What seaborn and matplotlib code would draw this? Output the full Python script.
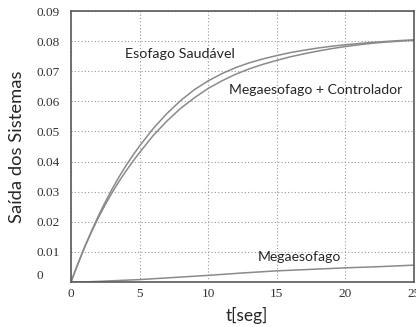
import numpy as np
import pandas as pd
import matplotlib
matplotlib.use("Agg")
import matplotlib.pyplot as plt
import seaborn as sns

# data
t_saudavel = [0, 0.5, 1, 1.5, 2, 2.5, 3, 3.5, 4, 4.5, 5, 6, 7, 8, 9, 10, 11, 12, 13,
              14, 15, 16, 17, 18, 19, 20, 21, 22, 23, 24, 25]
y_saudavel = [0, 0.0060, 0.0117, 0.0170, 0.0220, 0.0266, 0.0309, 0.0349, 0.0386, 0.0420,
              0.0452, 0.0510, 0.0560, 0.0603, 0.0639, 0.0668, 0.0692, 0.0712, 0.0728,
              0.0741, 0.0752, 0.0762, 0.0770, 0.0777, 0.0783, 0.0788, 0.0792, 0.0796,
              0.0799, 0.0802, 0.0804]
t_controlador = [0, 0.5, 1, 1.5, 2, 2.5, 3, 3.5, 4, 4.5, 5, 6, 7, 8, 9, 10, 11, 12, 13,
                 14, 15, 16, 17, 18, 19, 20, 21, 22, 23, 24, 25]
y_controlador = [0, 0.0060, 0.0116, 0.0167, 0.0214, 0.0257, 0.0297, 0.0334, 0.0368, 0.0400,
                 0.0430, 0.0487, 0.0535, 0.0577, 0.0612, 0.0643, 0.0668, 0.0690, 0.0708,
                 0.0723, 0.0736, 0.0748, 0.0758, 0.0767, 0.0775, 0.0782, 0.0788, 0.0793,
                 0.0797, 0.0800, 0.0803]
t_mega = [0, 1, 2, 3, 4, 5, 7.5, 10, 12.5, 15, 17.5, 20, 22.5, 25]
y_mega = [0, 0.00005, 0.0002, 0.0004, 0.0006, 0.0008, 0.0015, 0.0022, 0.0030, 0.0037,
          0.0042, 0.0047, 0.0051, 0.0056]

x_ticks = [0, 5, 10, 15, 20, 25]
y_ticks = [0, 0.01, 0.02, 0.03, 0.04, 0.05, 0.06, 0.07, 0.08, 0.09]
y_ticklabels = ["0", "0.01", "0.02", "0.03", "0.04", "0.05", "0.06", "0.07", "0.08", "0.09"]

df = pd.concat([
    pd.DataFrame({"t": t_saudavel, "y": y_saudavel, "s": "Esofago Saudável"}),
    pd.DataFrame({"t": t_controlador, "y": y_controlador, "s": "Megaesofago + Controlador"}),
    pd.DataFrame({"t": t_mega, "y": y_mega, "s": "Megaesofago"}),
])

sns.set_style("white")
fig = plt.figure(figsize=(4.16, 3.27), dpi=100)
ax = fig.add_axes([71/416, 1 - 282/327, 343/416, 271/327])

sns.lineplot(data=df, x="t", y="y", units="s", estimator=None, color="#8a8a8a",
             lw=1.1, ax=ax, legend=False)

ax.set_xlim(0, 25)
ax.set_ylim(0, 0.09)
ax.set_xticks(x_ticks)
ax.set_yticks(y_ticks)
ax.set_yticklabels(y_ticklabels)
for lab in ax.get_xticklabels() + ax.get_yticklabels():
    lab.set_fontfamily("Liberation Serif")
    lab.set_fontsize(9.5)
    lab.set_color("#333333")
for lab in ax.get_yticklabels():
    lab.set_horizontalalignment("left")
ax.get_yticklabels()[0].set_verticalalignment("bottom")
ax.tick_params(axis="y", length=0, pad=25)
ax.tick_params(axis="x", length=0, pad=4)
ax.grid(True, linestyle=(0, (1, 2)), color="#999999", lw=0.8)
for sp in ax.spines.values():
    sp.set_color("#5a5a5a")
    sp.set_linewidth(1.2)

ax.set_xlabel("t[seg]", family="Lato", fontsize=12.5)
ax.set_ylabel("Saída dos Sistemas", family="Lato", fontsize=13.2)
ax.xaxis.set_label_coords(0.513, -0.125)
ax.xaxis.label.set_va("center")
ax.yaxis.set_label_coords(-0.157, 0.5)
ax.yaxis.label.set_va("center")

ax.text(3.95, 0.0757, "Esofago Saudável", fontfamily="Lato", fontsize=10.3, va="center")
ax.text(11.5, 0.0638, "Megaesofago + Controlador", fontfamily="Lato", fontsize=10.1, va="center")
ax.text(13.6, 0.0083, "Megaesofago", fontfamily="Lato", fontsize=10.1, va="center")

fig.savefig("out.png", dpi=100)
